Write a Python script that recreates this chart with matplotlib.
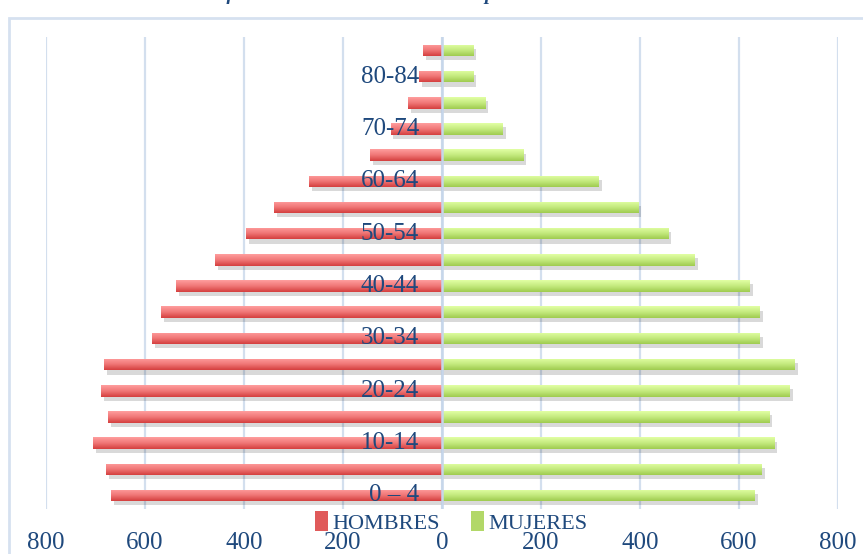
import numpy as np
import matplotlib
matplotlib.use("Agg")
import matplotlib.pyplot as plt
from matplotlib.patches import Patch, Rectangle
from matplotlib.colors import LinearSegmentedColormap
import matplotlib.patheffects as pe

# Age groups, bottom to top
grupos = ["0 – 4", "5-9", "10-14", "15-19", "20-24", "25-29", "30-34", "35-39",
          "40-44", "45-49", "50-54", "55-59", "60-64", "65-69", "70-74", "75-79",
          "80-84", "85+"]
hombres = [669, 679, 705, 675, 689, 683, 586, 567, 537, 459, 396, 339, 269, 145, 104, 69, 46, 38]
mujeres = [632, 646, 672, 662, 703, 713, 642, 642, 622, 511, 457, 396, 317, 165, 123, 88, 63, 63]

x_ticks = [-800, -600, -400, -200, 0, 200, 400, 600, 800]

TEXT_COLOR = "#1F497D"
GRID_COLOR = "#D3DFEE"
FONT = "Liberation Serif"

red_cmap = LinearSegmentedColormap.from_list("red", ["#D43F3E", "#F07676", "#FF9E9E"])
green_cmap = LinearSegmentedColormap.from_list("green", ["#9FCB4F", "#C4EA7E", "#E2FFA4"])


def gradient_bars(axis, bars, cmap):
    grad = np.linspace(0, 1, 64).reshape(-1, 1)
    for bar in bars:
        x0 = bar.get_x()
        x1 = x0 + bar.get_width()
        y0 = bar.get_y()
        y1 = y0 + bar.get_height()
        img = axis.imshow(grad, extent=(min(x0, x1), max(x0, x1), y0, y1),
                          origin="lower", cmap=cmap, aspect="auto", zorder=3,
                          interpolation="bilinear")
        img.set_clip_path(bar)


fig = plt.figure(figsize=(8.63, 5.54), dpi=100)
ax = fig.add_axes([0.0533, 0.082, 0.9177, 0.8505])

y = np.arange(len(grupos))
shadow = [pe.SimplePatchShadow(offset=(2, -3), shadow_rgbFace="k", alpha=0.15), pe.Normal()]

bars_h = ax.barh(y, -np.array(hombres), height=0.44, color="#E56060", zorder=2)
bars_m = ax.barh(y, mujeres, height=0.44, color="#B8DE70", zorder=2)
for b in list(bars_h) + list(bars_m):
    b.set_path_effects(shadow)

gradient_bars(ax, bars_h, red_cmap)
gradient_bars(ax, bars_m, green_cmap)

ax.set_xlim(-800, 800)
ax.set_ylim(-0.5, len(grupos) - 0.5)

# vertical gridlines behind, value axis line at zero on top
ax.set_axisbelow(True)
ax.set_xticks(x_ticks)
ax.set_xticklabels([str(abs(t)) for t in x_ticks], fontfamily=FONT, fontsize=18,
                   color=TEXT_COLOR)
ax.tick_params(axis="x", length=0, pad=17)
ax.set_yticks([])
ax.grid(axis="x", color=GRID_COLOR, linewidth=1.6)
ax.axvline(0, color="#C6D6EA", linewidth=1.8, zorder=5)
for s in ax.spines.values():
    s.set_visible(False)

# category labels, every other group, inside the plot
for i in range(0, len(grupos), 2):
    ax.text(-46, y[i], grupos[i], ha="right", va="center", fontfamily=FONT,
            fontsize=18, color=TEXT_COLOR, zorder=6)

handles = [Patch(facecolor="#E05A5A", label="HOMBRES"),
           Patch(facecolor="#B2D868", label="MUJERES")]
fig.legend(handles=handles, loc="center", bbox_to_anchor=(0.523, 0.057), ncol=2,
           frameon=False, handlelength=0.6, handleheight=1.0, handletextpad=0.2,
           columnspacing=1.4, prop={"family": FONT, "size": 16}, labelcolor=TEXT_COLOR)

# chart area border (cropped on right and bottom)
fig.patches.append(Rectangle((9 / 863, -0.1), 1.2, 1.0838 - 9 / 554, transform=fig.transFigure,
                             fill=False, edgecolor="#D6E1F0", linewidth=2))

# title, mostly cut off at the top edge
fig.text(0.512, 1 - 0.5 / 554, "Gráfica 1. Pirámide de edades de la población de San Marcos",
         ha="center", va="baseline", fontfamily=FONT, fontstyle="italic", fontweight="bold",
         fontsize=14, color=TEXT_COLOR)

fig.savefig("out.png", dpi=100)
